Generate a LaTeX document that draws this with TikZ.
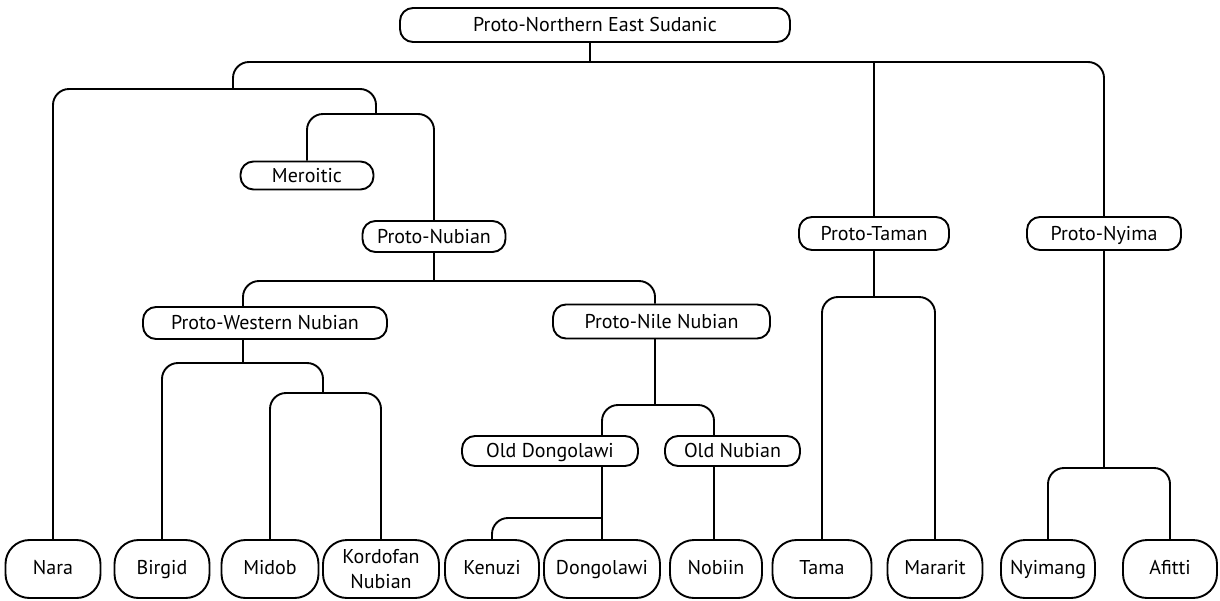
\documentclass[tikz,border=0pt]{standalone}
\usepackage{fontspec}
\setmainfont{PT Sans}
\begin{document}
\begin{tikzpicture}[x=1pt,y=-1pt,line width=1.9pt,
  inner/.style={draw,rounded corners=13pt,minimum height=32pt,inner sep=0pt,text height=14pt,text depth=1pt,font=\fontsize{20}{24}\selectfont},
  leafbase/.style={draw,rounded corners=24pt,minimum height=58pt,inner sep=0pt,align=center,font=\fontsize{20}{25}\selectfont},
  leaf/.style={leafbase,text height=14pt,text depth=4pt},
  link/.style={rounded corners=16pt}]
\useasboundingbox (0,0) rectangle (1220,600);
% inner nodes
\node[inner,minimum width=390pt,minimum height=34pt] (pnes) at (595,25) {Proto-Northern East Sudanic};
\node[inner,minimum width=133pt,minimum height=28pt] (mer) at (307,175.5) {Meroitic};
\node[inner,minimum width=143pt,minimum height=31pt] (pn) at (434,236.5) {Proto-Nubian};
\node[inner,minimum width=244pt] (pwn) at (265,323) {Proto-Western Nubian};
\node[inner,minimum width=217pt,minimum height=34pt] (pnn) at (661.5,321.5) {Proto-Nile Nubian};
\node[inner,minimum width=176pt,minimum height=30pt] (od) at (550,451) {Old Dongolawi};
\node[inner,minimum width=135pt,minimum height=30pt] (on) at (732.5,451) {Old Nubian};
\node[inner,minimum width=150pt,minimum height=33pt] (pt) at (874,233.5) {Proto-Taman};
\node[inner,minimum width=154pt,minimum height=33pt] (pny) at (1104,233.5) {Proto-Nyima};
% leaves
\node[leaf,minimum width=95pt] (nara) at (53,569) {Nara};
\node[leaf,minimum width=95pt] (birgid) at (162,569) {Birgid};
\node[leaf,minimum width=97pt] (midob) at (270,569) {Midob};
\node[leafbase,minimum width=116pt] (kord) at (381,569) {Kordofan\\Nubian};
\node[leaf,minimum width=94pt] (kenuzi) at (492,569) {Kenuzi};
\node[leaf,minimum width=116pt] (dong) at (602,569) {Dongolawi};
\node[leaf,minimum width=92pt] (nobiin) at (716,569) {Nobiin};
\node[leaf,minimum width=99pt] (tama) at (822,569) {Tama};
\node[leaf,minimum width=95pt] (mararit) at (935,569) {Mararit};
\node[leaf,minimum width=94pt] (nyimang) at (1048,569) {Nyimang};
\node[leaf,minimum width=94pt] (afitti) at (1170,569) {Afitti};
% junctions
\coordinate (sA) at (590,62);
\coordinate (sB) at (233,89);
\coordinate (sC) at (376,114);
\coordinate (sD) at (434,281);
\coordinate (sE) at (243,363);
\coordinate (sF) at (323,393);
\coordinate (sG) at (655,405);
\coordinate (sK) at (714,405);
\coordinate (sH) at (602,518);
\coordinate (sI) at (874,297);
\coordinate (sJ) at (1104,468);
% connectors
\draw (sA |- pnes.south) -- (sA);
\draw[link] (sB) |- (sA) -| (pny.north);
\draw (pt.north |- sA) -- (pt.north);
\draw[link] (nara.north) |- (sB) -| (sC);
\draw[link] (mer.north) |- (sC) -| (pn.north);
\draw (pn.south) -- (sD);
\draw[link] (sE |- pwn.north) |- (sD) -| (sG |- pnn.north);
\draw (sE |- pwn.south) -- (sE);
\draw[link] (birgid.north) |- (sE) -| (sF);
\draw[link] (midob.north) |- (sF) -| (kord.north);
\draw (sG |- pnn.south) -- (sG);
\draw[link] (sH |- od.north) |- (sG) -| (sK |- on.north);
\draw (sK |- on.south) -- (sK |- nobiin.north);
\draw (sH |- od.south) -- (dong.north);
\draw[link] (kenuzi.north) |- (sH);
\draw (pt.south) -- (sI);
\draw[link] (tama.north) |- (sI) -| (mararit.north);
\draw (pny.south) -- (sJ);
\draw[link] (nyimang.north) |- (sJ) -| (afitti.north);
\end{tikzpicture}
\end{document}
